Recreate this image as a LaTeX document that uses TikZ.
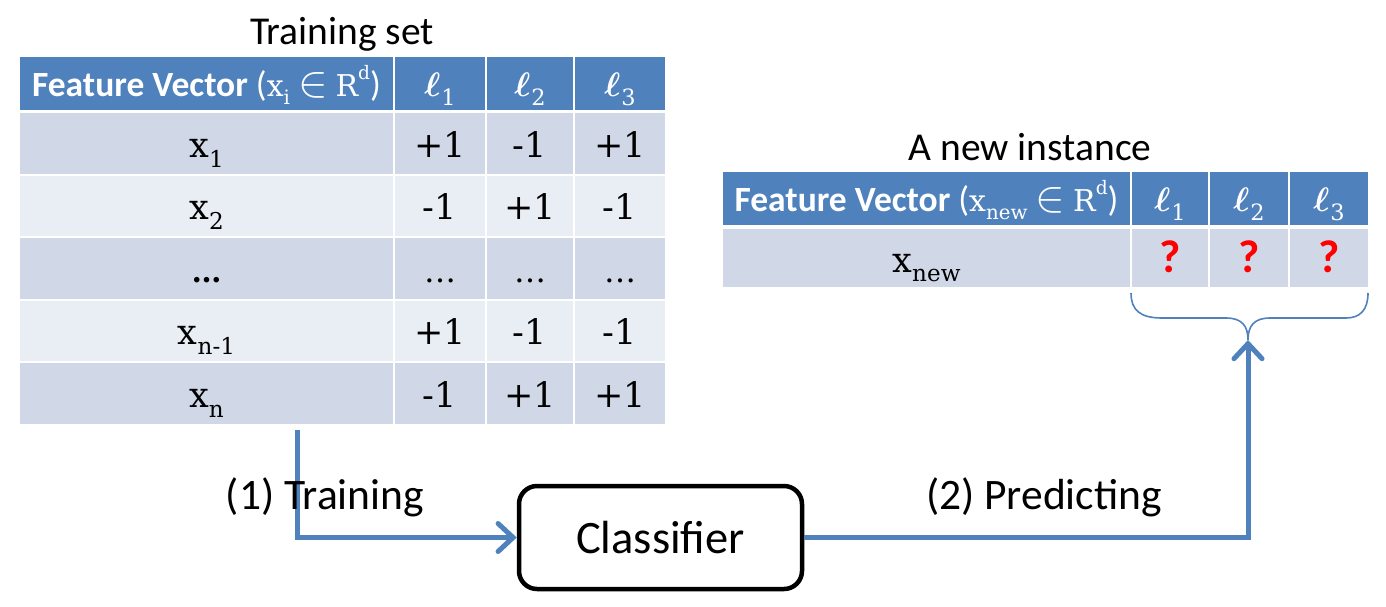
\RequirePackage{fix-cm}
\documentclass[tikz,border=0pt]{standalone}
\usepackage{fontspec}
\setmainfont{Carlito}
\newfontfamily\serifx{DejaVu Serif}
\usetikzlibrary{arrows.meta}
\definecolor{hdr}{HTML}{4F81BD}
\definecolor{rowa}{HTML}{D0D8E8}
\definecolor{rowb}{HTML}{E9EDF4}
\definecolor{arr}{HTML}{4F81BD}
\definecolor{qred}{HTML}{FF0000}
\newcommand\dn[1]{\raisebox{-0.28em}{\scalebox{0.66}{#1}}}
\newcommand\up[1]{\raisebox{0.55em}{\scalebox{0.62}{#1}}}
\newcommand\ellx[1]{{\boldmath$\ell$}\kern1pt\dn{\serifx #1}}
\newcommand\hin{{\color{white}\scalebox{1.25}{$\in$}}}
\begin{document}
\begin{tikzpicture}[x=1pt,y=-1pt,
  cell/.style={rectangle, anchor=north west, inner sep=0pt, outer sep=0pt, align=center},
  hcell/.style={cell, fill=hdr, text=white, text height=25pt, text depth=0pt},
  bcell/.style={cell, text=black, font=\serifx\fontsize{35}{40}\selectfont, text height=28pt, text depth=0pt},
  qcell/.style={bcell, text=qred, font=\bfseries\fontsize{46}{50}\selectfont},
  title/.style={inner sep=0pt, anchor=base, font=\fontsize{39.5}{44}\selectfont},
  lbl/.style={inner sep=0pt, font=\fontsize{43.5}{48}\selectfont},
  hfeat/.style={font=\fontsize{35.5}{40}\selectfont},
  hell/.style={font=\fontsize{34}{40}\selectfont},
  flow/.style={draw=arr, line width=5pt, -{Straight Barb[length=15pt,width=28pt,line cap=round]}},
  brace/.style={draw=arr, line width=1.6pt}
]
\useasboundingbox (0,0) rectangle (1386,606);

% ---------- Training set ----------
\node[title] (t1) at (342,44) {Training set};

\node[hcell, hfeat, minimum width=373pt, minimum height=53pt] (L00) at (20,57)
  {\textbf{Feature Vector} ({\serifx\fontsize{30}{30}\selectfont x\dn{i}} \hin{} {\serifx\fontsize{30}{30}\selectfont R\up{d}})};
\node[hcell, hell, minimum width=90pt, minimum height=53pt] (L01) at (395,57) {\ellx{1}};
\node[hcell, hell, minimum width=86pt, minimum height=53pt] (L02) at (487,57) {\ellx{2}};
\node[hcell, hell, minimum width=90pt, minimum height=53pt] (L03) at (575,57) {\ellx{3}};

% rows
\node[bcell, fill=rowa, minimum width=373pt, minimum height=60.5pt] (L10) at (20,113) {x\dn{1}};
\node[bcell, fill=rowa, minimum width=90pt, minimum height=60.5pt] (L11) at (395,113) {+1};
\node[bcell, fill=rowa, minimum width=86pt, minimum height=60.5pt] (L12) at (487,113) {-1};
\node[bcell, fill=rowa, minimum width=90pt, minimum height=60.5pt] (L13) at (575,113) {+1};

\node[bcell, fill=rowb, minimum width=373pt, minimum height=60.5pt] (L20) at (20,175.5) {x\dn{2}};
\node[bcell, fill=rowb, minimum width=90pt, minimum height=60.5pt] (L21) at (395,175.5) {-1};
\node[bcell, fill=rowb, minimum width=86pt, minimum height=60.5pt] (L22) at (487,175.5) {+1};
\node[bcell, fill=rowb, minimum width=90pt, minimum height=60.5pt] (L23) at (575,175.5) {-1};

\node[bcell, fill=rowa, minimum width=373pt, minimum height=60.5pt] (L30) at (20,238) {\textbf{\fontsize{30}{30}\selectfont…}};
\node[bcell, fill=rowa, minimum width=90pt, minimum height=60.5pt] (L31) at (395,238) {\fontsize{32}{30}\selectfont…};
\node[bcell, fill=rowa, minimum width=86pt, minimum height=60.5pt] (L32) at (487,238) {\fontsize{32}{30}\selectfont…};
\node[bcell, fill=rowa, minimum width=90pt, minimum height=60.5pt] (L33) at (575,238) {\fontsize{32}{30}\selectfont…};

\node[bcell, fill=rowb, minimum width=373pt, minimum height=60.5pt] (L40) at (20,300.5) {x\dn{n-1}};
\node[bcell, fill=rowb, minimum width=90pt, minimum height=60.5pt] (L41) at (395,300.5) {+1};
\node[bcell, fill=rowb, minimum width=86pt, minimum height=60.5pt] (L42) at (487,300.5) {-1};
\node[bcell, fill=rowb, minimum width=90pt, minimum height=60.5pt] (L43) at (575,300.5) {-1};

\node[bcell, fill=rowa, minimum width=373pt, minimum height=60.5pt] (L50) at (20,363) {x\dn{n}};
\node[bcell, fill=rowa, minimum width=90pt, minimum height=60.5pt] (L51) at (395,363) {-1};
\node[bcell, fill=rowa, minimum width=86pt, minimum height=60.5pt] (L52) at (487,363) {+1};
\node[bcell, fill=rowa, minimum width=90pt, minimum height=60.5pt] (L53) at (575,363) {+1};

% ---------- New instance ----------
\node[title] (t2) at (1030,160) {A new instance};

\node[hcell, hfeat, minimum width=407pt, minimum height=53pt] (R00) at (723,172)
  {\textbf{Feature Vector} ({\serifx\fontsize{30}{30}\selectfont x\dn{new}} \hin{} {\serifx\fontsize{30}{30}\selectfont R\up{d}})};
\node[hcell, hell, minimum width=76pt, minimum height=53pt] (R01) at (1132,172) {\ellx{1}};
\node[hcell, hell, minimum width=78pt, minimum height=53pt] (R02) at (1210,172) {\ellx{2}};
\node[hcell, hell, minimum width=78pt, minimum height=53pt] (R03) at (1290,172) {\ellx{3}};

\node[bcell, fill=rowa, minimum width=407pt, minimum height=58pt] (R10) at (723,229) {x\dn{new}};
\node[qcell, fill=rowa, minimum width=76pt, minimum height=58pt] (R11) at (1132,229) {?};
\node[qcell, fill=rowa, minimum width=78pt, minimum height=58pt] (R12) at (1210,229) {?};
\node[qcell, fill=rowa, minimum width=78pt, minimum height=58pt] (R13) at (1290,229) {?};

% brace under the label cells
\coordinate (bl) at (1131,293);
\coordinate (br) at (1368,293);
\coordinate (bt) at (1248,340);
\draw[brace] (bl) .. controls (1131,310) and (1140,318) .. (1162,318) -- (1226,318)
  .. controls (1242,318) and (1248,326) .. (bt)
  .. controls (1248,326) and (1254,318) .. (1270,318) -- (1346,318)
  .. controls (1360,318) and (1368,310) .. (br);

% ---------- Classifier and flow ----------
\node[draw=black, line width=4.5pt, rounded corners=18pt, minimum width=283pt, minimum height=103pt,
      inner sep=0pt, font=\fontsize{46.5}{50}\selectfont] (clf) at (660.5,537.5) {Classifier};

\coordinate (s1) at (297,430);
\draw[flow] (s1) |- (clf.west);
\draw[flow] (clf.east) -| (bt);

\node[lbl] (l1) at (325,497) {(1) Training};
\node[lbl] (l2) at (1044,497) {(2) Predicting};
\end{tikzpicture}
\end{document}
